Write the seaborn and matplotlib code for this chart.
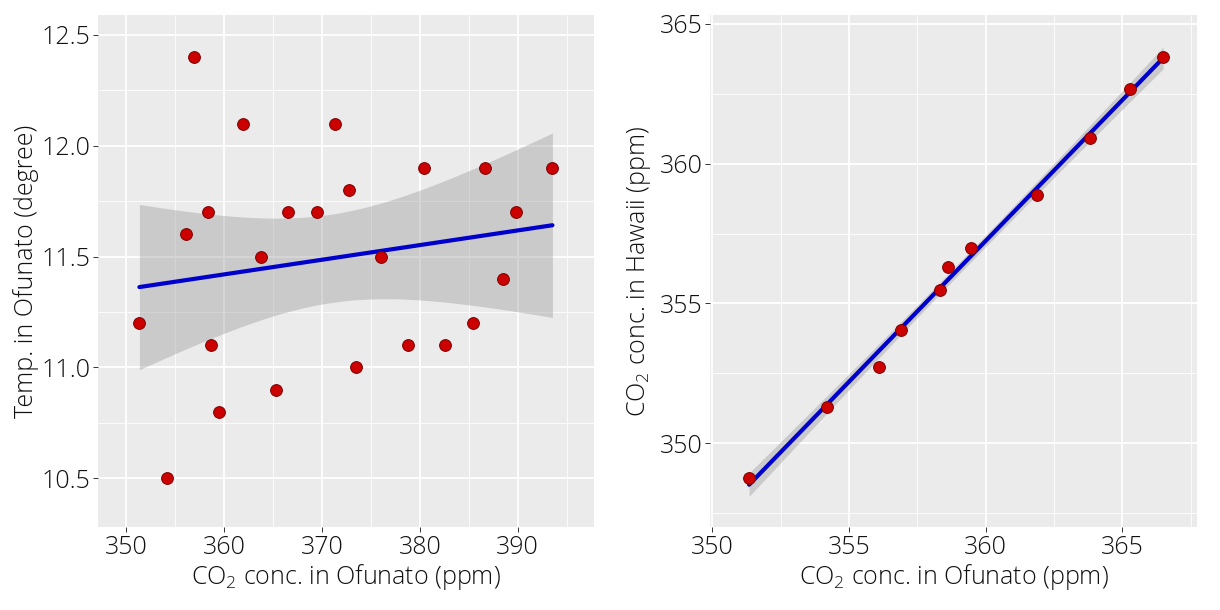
import numpy as np
import pandas as pd
import seaborn as sns
import matplotlib
matplotlib.use("Agg")
import matplotlib.pyplot as plt
from matplotlib.ticker import MultipleLocator

# ---- data ----
co2_ofunato = [351.33, 354.18, 356.08, 356.91, 358.31, 358.60, 359.43, 361.88, 363.80,
               365.28, 366.48, 369.51, 371.31, 372.74, 373.50, 376.02, 378.81, 380.45,
               382.60, 385.40, 386.66, 388.50, 389.80, 393.55]
temp_ofunato = [11.2, 10.5, 11.6, 12.4, 11.7, 11.1, 10.8, 12.1, 11.5, 10.9, 11.7, 11.7,
                12.1, 11.8, 11.0, 11.5, 11.1, 11.9, 11.1, 11.2, 11.9, 11.4, 11.7, 11.9]
co2_ofunato_matched = [351.35, 354.20, 356.10, 356.92, 358.32, 358.61, 359.45, 361.89,
                       363.80, 365.27, 366.49]
co2_hawaii = [348.75, 351.31, 352.74, 354.04, 355.49, 356.30, 357.00, 358.88, 360.92,
              362.69, 363.81]

xlabel = r"CO$_\mathregular{2}$ conc. in Ofunato (ppm)"
ylabel_left = "Temp. in Ofunato (degree)"
ylabel_right = r"CO$_\mathregular{2}$ conc. in Hawaii (ppm)"

df1 = pd.DataFrame({"x": co2_ofunato, "y": temp_ofunato})
df2 = pd.DataFrame({"x": co2_ofunato_matched, "y": co2_hawaii})

sns.set_theme(style="darkgrid", rc={
    "axes.facecolor": "#EBEBEB",
    "figure.facecolor": "white",
    "grid.color": "white",
    "axes.edgecolor": "#EBEBEB",
    "xtick.bottom": True,
    "ytick.left": True,
    "xtick.major.size": 3.5,
    "ytick.major.size": 3.5,
    "xtick.major.width": 0.7,
    "ytick.major.width": 0.7,
    "xtick.color": "#333333",
    "ytick.color": "#333333",
    "xtick.labelcolor": "#111111",
    "ytick.labelcolor": "#111111",
    "axes.labelcolor": "#111111",
})
plt.rcParams["font.family"] = ["Open Sans", "DejaVu Sans"]
plt.rcParams["font.weight"] = "light"
plt.rcParams["axes.labelweight"] = "light"
plt.rcParams["mathtext.fontset"] = "custom"
plt.rcParams["mathtext.rm"] = "Open Sans:light"
plt.rcParams["mathtext.it"] = "Open Sans:italic:light"

fig = plt.figure(figsize=(12.2, 6.1), dpi=100)
ax1 = fig.add_axes([98 / 1220, 1 - 527 / 610, 496 / 1220, 512 / 610])
ax2 = fig.add_axes([710 / 1220, 1 - 527 / 610, 487 / 1220, 512 / 610])

T_CRIT = {22: 2.0739, 9: 2.2622}


def panel(ax, df):
    x = df["x"].to_numpy()
    y = df["y"].to_numpy()
    n = len(x)
    b, a = np.polyfit(x, y, 1)
    resid = y - (a + b * x)
    s = np.sqrt(np.sum(resid ** 2) / (n - 2))
    xg = np.linspace(x.min(), x.max(), 200)
    sxx = np.sum((x - x.mean()) ** 2)
    se = s * np.sqrt(1 / n + (xg - x.mean()) ** 2 / sxx)
    yg = a + b * xg
    t = T_CRIT[n - 2]
    ax.fill_between(xg, yg - t * se, yg + t * se, color="#999999", alpha=0.4,
                    linewidth=0, zorder=2)
    sns.regplot(data=df, x="x", y="y", ax=ax, scatter=False, ci=None, truncate=True,
                line_kws=dict(color="#0000CD", lw=3.0, zorder=3))
    sns.scatterplot(data=df, x="x", y="y", ax=ax, s=72, color="#CC0000",
                    edgecolor="#7A0000", linewidth=0.7, zorder=4)


panel(ax1, df1)
panel(ax2, df2)

ax1.set_xlim(347.1, 397.8)
ax1.set_ylim(10.28, 12.59)
ax1.xaxis.set_major_locator(MultipleLocator(10))
ax1.xaxis.set_minor_locator(MultipleLocator(5))
ax1.yaxis.set_major_locator(MultipleLocator(0.5))
ax1.yaxis.set_minor_locator(MultipleLocator(0.25))
ax1.yaxis.set_major_formatter(matplotlib.ticker.FormatStrFormatter("%.1f"))

ax2.set_xlim(349.92, 367.73)
ax2.set_ylim(347.0, 365.32)
ax2.xaxis.set_major_locator(MultipleLocator(5))
ax2.xaxis.set_minor_locator(MultipleLocator(2.5))
ax2.yaxis.set_major_locator(MultipleLocator(5))
ax2.yaxis.set_minor_locator(MultipleLocator(2.5))

for ax, yl, lp in ((ax1, ylabel_left, 2), (ax2, ylabel_right, 5)):
    ax.grid(which="major", color="white", linewidth=1.3)
    ax.grid(which="minor", color="white", linewidth=0.6)
    ax.tick_params(which="minor", length=0)
    ax.tick_params(which="major", labelsize=18, pad=2)
    for sp in ax.spines.values():
        sp.set_visible(False)
    ax.set_xlabel(xlabel, fontsize=18, labelpad=2)
    ax.set_ylabel(yl, fontsize=18, labelpad=lp)

fig.savefig("out.png", dpi=100)
